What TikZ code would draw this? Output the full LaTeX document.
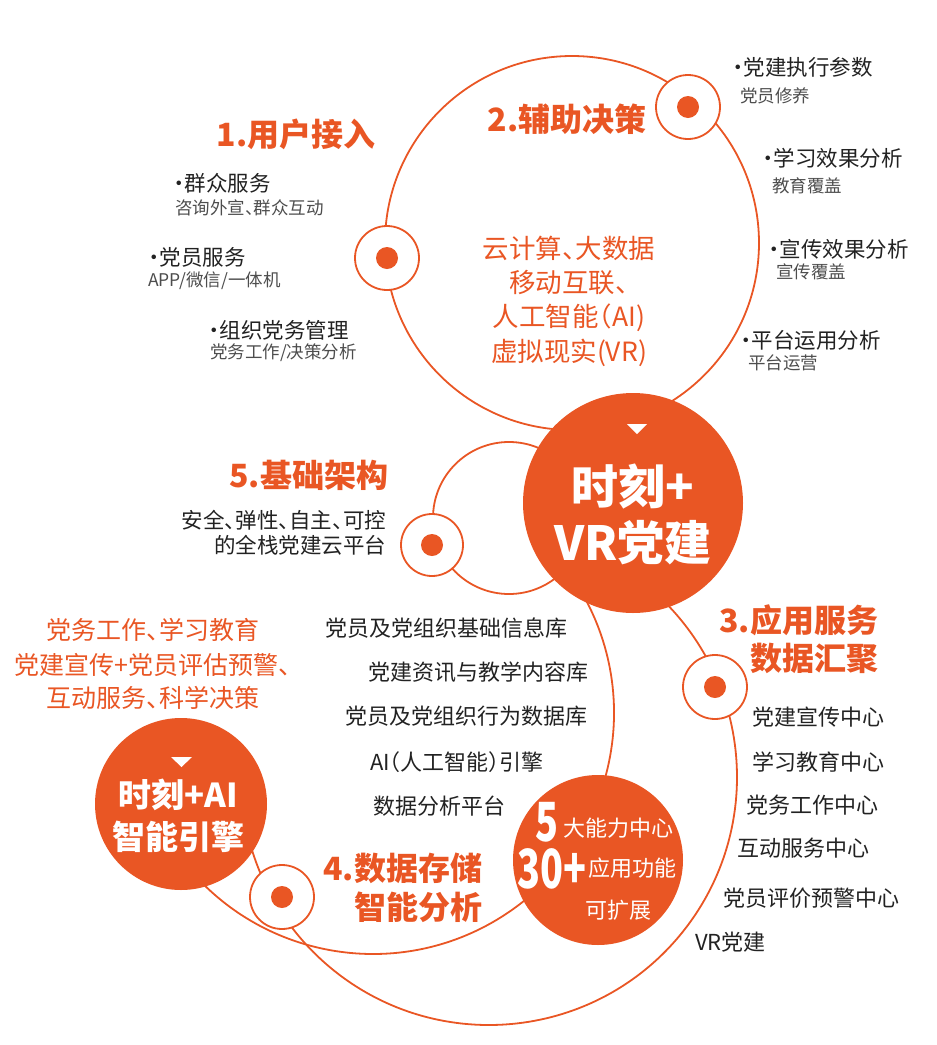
\documentclass[tikz,border=0pt]{standalone}
\usepackage{fontspec}
\usepackage{graphicx}
\setmainfont{Noto Sans CJK SC}[RawFeature=+halt]
\definecolor{cE95624}{RGB}{233,86,36}
\definecolor{c222222}{RGB}{34,34,34}
\definecolor{c4D4D4D}{RGB}{77,77,77}

\begin{document}
\begin{tikzpicture}[y=1pt, x=1pt, yscale=-1, inner sep=0pt, outer sep=0pt,
  ring/.style={draw=cE95624, line width=1.8pt},
  hub/.style={fill=white, draw=cE95624, line width=1.8pt},
  titletext/.style={text=cE95624, font=\bfseries\fontsize{32}{36}\selectfont},
  itemtext/.style={text=c222222, anchor=west, font=\fontsize{21.5}{24}\selectfont},
  subtext/.style={text=c4D4D4D, anchor=west, font=\fontsize{17.5}{20}\selectfont},
  listtext/.style={text=c222222, anchor=west, font=\fontsize{22}{25}\selectfont},
  techtext/.style={text=cE95624, font=\fontsize{26.5}{30}\selectfont},
  scenetext/.style={text=cE95624, font=\fontsize{25}{28}\selectfont},
  herotext/.style={text=white, font=\bfseries\fontsize{47}{50}\selectfont},
  aitext/.style={text=white, font=\bfseries\fontsize{33}{36}\selectfont},
  numtext/.style={text=white, font=\bfseries\fontsize{54}{56}\selectfont},
  whitetext/.style={text=white, anchor=west, font=\fontsize{22}{25}\selectfont}]
\useasboundingbox (0,0) rectangle (937,1045);

% rings
\path[ring] (572,243) circle (187);
\path[ring] (509,518) circle (76);
\path[ring] ([shift={(-32:241)}]373,713) arc[start angle=-32, end angle=140, radius=241];
\path[ring] ([shift={(-50:248)}]489,777) arc[start angle=-50, end angle=170, radius=248];

% small hubs
\path[hub] (387,258) circle (32);
\path[fill=cE95624] (387,258) circle (11);
\path[hub] (688,107) circle (32);
\path[fill=cE95624] (688,107) circle (11);
\path[hub] (715,687) circle (32);
\path[fill=cE95624] (715,687) circle (11);
\path[hub] (282,897) circle (32);
\path[fill=cE95624] (282,897) circle (11);
\path[hub] (432,545) circle (31);
\path[fill=cE95624] (432,545) circle (11);

% filled discs
\path[fill=cE95624] (633,503) circle (110);
\path[fill=cE95624] (181,804) circle (86);
\path[fill=cE95624] (598,860) circle (85);
\path[fill=white] (627,424) -- (647,424) -- (637,434) -- cycle;
\path[fill=white] (171,757) -- (192,757) -- (181.5,767) -- cycle;

% 1
\path (296,134) node[titletext] (title1) {1.用户接入};
\path (174,183) node[itemtext] (item1-1) {·群众服务};
\path (175,208) node[subtext] (sub1-1) {咨询外宣、群众互动};
\path (149,257) node[itemtext] (item1-2) {·党员服务};
\path (148,281) node[subtext] (sub1-2) {APP/微信/一体机};
\path (209,330) node[itemtext] (item1-3) {·组织党务管理};
\path (210,353) node[subtext] (sub1-3) {党务工作/决策分析};

% 2
\path (567,119) node[titletext] (title2) {2.辅助决策};
\path (569,248) node[techtext] (tech1) {云计算、大数据};
\path (569,283) node[techtext] (tech2) {移动互联、};
\path (569,318) node[techtext] (tech3) {人工智能（AI)};
\path (569,353) node[techtext] (tech4) {虚拟现实(VR)};
\path (733,67) node[itemtext] (item2-1) {·党建执行参数};
\path (740,96) node[subtext] (sub2-1) {党员修养};
\path (763,158) node[itemtext] (item2-2) {·学习效果分析};
\path (772,186) node[subtext] (sub2-2) {教育覆盖};
\path (769,249) node[itemtext] (item2-3) {·宣传效果分析};
\path (776,272) node[subtext] (sub2-3) {宣传覆盖};
\path (741,340) node[itemtext] (item2-4) {·平台运用分析};
\path (748,363) node[subtext] (sub2-4) {平台运营};

% 5
\path (388,475) node[titletext, anchor=east] (title5) {5.基础架构};
\path (386,520) node[itemtext, anchor=east] (base1) {安全、弹性、自主、可控};
\path (386,545) node[itemtext, anchor=east] (base2) {的全栈党建云平台};

% hub texts
\path (633,487) node[herotext] (hero1) {时刻+};
\path (633,543) node[herotext] (hero2) {VR党建};
\path (178,795) node[aitext] (ai1) {时刻+AI};
\path (178,837) node[aitext] (ai2) {智能引擎};
\path (153,630) node[scenetext] (scene1) {党务工作、学习教育};
\path (153,665) node[scenetext] (scene2) {党建宣传+党员评估预警、};
\path (153,698) node[scenetext] (scene3) {互动服务、科学决策};

% 3
\path (878,620) node[titletext, anchor=east] (title3-1) {3.应用服务};
\path (878,658) node[titletext, anchor=east] (title3-2) {数据汇聚};
\path (752,717) node[listtext] (app1) {党建宣传中心};
\path (752,762) node[listtext] (app2) {学习教育中心};
\path (746,805) node[listtext] (app3) {党务工作中心};
\path (737,848) node[listtext] (app4) {互动服务中心};
\path (723,898) node[listtext] (app5) {党员评价预警中心};
\path (695,942) node[listtext] (app6) {VR党建};

% 4
\path (482,868) node[titletext, anchor=east] (title4-1) {4.数据存储};
\path (482,907) node[titletext, anchor=east] (title4-2) {智能分析};
\path (325,628) node[listtext] (db1) {党员及党组织基础信息库};
\path (368,672) node[listtext] (db2) {党建资讯与教学内容库};
\path (345,716) node[listtext] (db3) {党员及党组织行为数据库};
\path (370,762) node[listtext] (db4) {AI（人工智能）引擎};
\path (373,806) node[listtext] (db5) {数据分析平台};

% 30+
\path (547.5,822) node[numtext] (num1) {\scalebox{0.7}[1]{5}};
\path (563,828) node[whitetext] (num1-txt) {大能力中心};
\path (552,869) node[numtext] (num2) {\scalebox{0.7}[1]{30+}};
\path (588,868) node[whitetext] (num2-txt) {应用功能};
\path (585,910) node[whitetext] (num3-txt) {可扩展};
\end{tikzpicture}
\end{document}
